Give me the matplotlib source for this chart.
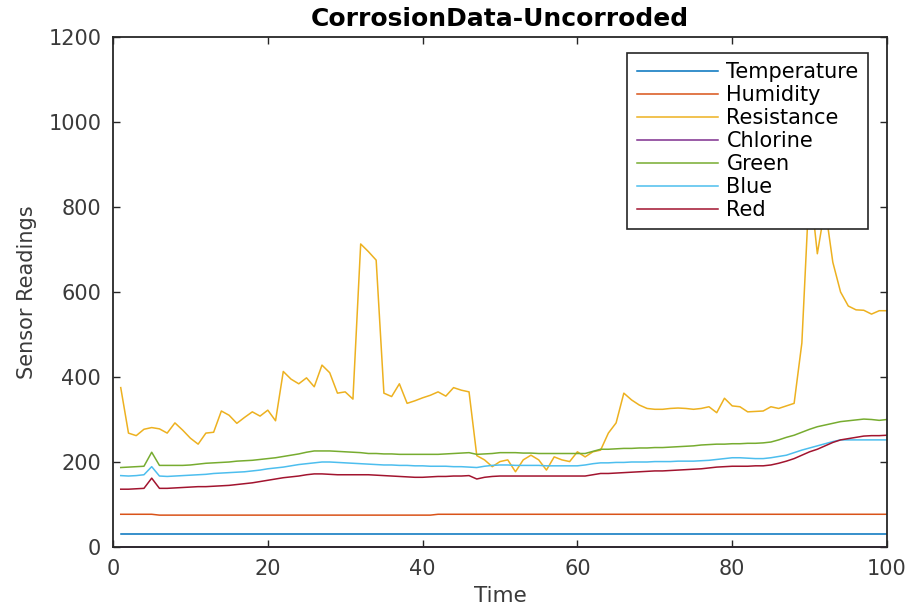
import numpy as np
import matplotlib
matplotlib.use("Agg")
import matplotlib.pyplot as plt

plt.rcParams['font.family'] = ['DejaVu Sans']

time = list(range(1, 101))

temperature = [30] * 100
humidity = [77] * 5 + [75] * 36 + [77] * 59
chlorine = [0] * 100

resistance = [375, 268, 262, 277, 281, 278, 268, 292, 275, 256,
              242, 268, 270, 320, 310, 291, 305, 318, 308, 322,
              297, 413, 395, 384, 398, 377, 428, 410, 362, 365,
              348, 713, 695, 675, 362, 354, 384, 338, 344, 351,
              357, 365, 355, 375, 369, 365, 215, 205, 189, 201,
              205, 177, 205, 216, 205, 181, 212, 205, 201, 224,
              212, 224, 228, 268, 292, 362, 346, 334, 326, 324,
              324, 326, 327, 326, 324, 326, 330, 316, 350, 332,
              330, 318, 319, 320, 330, 326, 332, 338, 480, 860,
              690, 800, 670, 600, 567, 558, 557, 548, 556, 556]

green = [187, 188, 189, 190, 223, 192, 192, 192, 192, 193,
         195, 197, 198, 199, 200, 202, 203, 204, 206, 208,
         210, 213, 216, 219, 223, 226, 226, 226, 225, 224,
         223, 222, 220, 220, 219, 219, 218, 218, 218, 218,
         218, 218, 219, 220, 221, 222, 218, 219, 220, 222,
         222, 222, 221, 221, 220, 220, 220, 220, 220, 220,
         220, 225, 230, 230, 231, 232, 232, 233, 233, 234,
         234, 235, 236, 237, 238, 240, 241, 242, 242, 243,
         243, 244, 244, 245, 247, 252, 258, 263, 270, 277,
         283, 287, 291, 295, 297, 299, 301, 300, 298, 300]

blue = [168, 167, 168, 170, 189, 167, 166, 167, 168, 169,
        170, 171, 173, 174, 175, 176, 177, 179, 181, 184,
        186, 188, 191, 194, 196, 198, 200, 200, 199, 198,
        197, 196, 195, 194, 193, 193, 192, 192, 191, 191,
        190, 190, 190, 189, 189, 188, 187, 190, 192, 193,
        193, 192, 192, 192, 192, 191, 191, 191, 191, 191,
        193, 196, 198, 198, 199, 199, 200, 200, 200, 201,
        201, 201, 202, 202, 202, 203, 204, 206, 208, 210,
        210, 209, 208, 208, 210, 213, 216, 222, 228, 233,
        238, 243, 248, 252, 252, 252, 252, 252, 252, 252]

red = [136, 136, 137, 138, 162, 138, 138, 139, 140, 141,
       142, 142, 143, 144, 145, 147, 149, 151, 154, 157,
       160, 163, 165, 167, 170, 172, 172, 171, 170, 170,
       170, 170, 170, 169, 168, 167, 166, 165, 164, 164,
       165, 166, 166, 167, 167, 168, 160, 164, 166, 167,
       167, 167, 167, 167, 167, 167, 167, 167, 167, 167,
       167, 170, 173, 173, 174, 175, 176, 177, 178, 179,
       179, 180, 181, 182, 183, 184, 186, 188, 189, 190,
       190, 190, 191, 191, 193, 197, 202, 208, 216, 224,
       230, 238, 246, 252, 255, 258, 261, 262, 262, 263]

series_names = ["Temperature", "Humidity", "Resistance", "Chlorine",
                "Green", "Blue", "Red"]
series_colors = ["#0072BD", "#D95319", "#EDB120", "#7E2F8E",
                 "#77AC30", "#4DBEEE", "#A2142F"]
series_values = [temperature, humidity, resistance, chlorine, green, blue, red]

xticks = [0, 20, 40, 60, 80, 100]
yticks = [0, 200, 400, 600, 800, 1000, 1200]

fig = plt.figure(figsize=(9.14, 6.13), dpi=100)
ax = fig.add_axes([113/914, 1 - 547/613, (887-113)/914, (547-37)/613])

for name, col, vals in zip(series_names, series_colors, series_values):
    ax.plot(time, vals, color=col, linewidth=1.1, label=name,
            clip_on=(name != "Chlorine"))

ax.set_xlim(0, 100)
ax.set_ylim(0, 1200)
ax.set_xticks(xticks)
ax.set_yticks(yticks)

frame_col = "#262626"
for s in ax.spines.values():
    s.set_color(frame_col)
    s.set_linewidth(1.3)
ax.tick_params(direction='in', length=5, width=1, colors=frame_col,
               top=True, right=True, labelsize=15, labelcolor="#3a3a3a", pad=8.5)

ax.set_title("CorrosionData-Uncorroded", fontsize=18, fontweight='bold', pad=8, color='black')
ax.set_xlabel("Time", fontsize=15.5, color="#3a3a3a", labelpad=5)
ax.set_ylabel("Sensor Readings", fontsize=15, color="#3a3a3a", labelpad=8)

leg = ax.legend(loc='upper right', bbox_to_anchor=(868/914, 1 - 53/613),
                bbox_transform=fig.transFigure, fontsize=15, frameon=True,
                fancybox=False, framealpha=1, edgecolor=frame_col,
                handlelength=3.9, handletextpad=0.4, labelspacing=0.14,
                borderpad=0.45, borderaxespad=0)
leg.get_frame().set_linewidth(1.2)
leg.set_zorder(5)

fig.savefig("out.png", dpi=100, facecolor='white')
